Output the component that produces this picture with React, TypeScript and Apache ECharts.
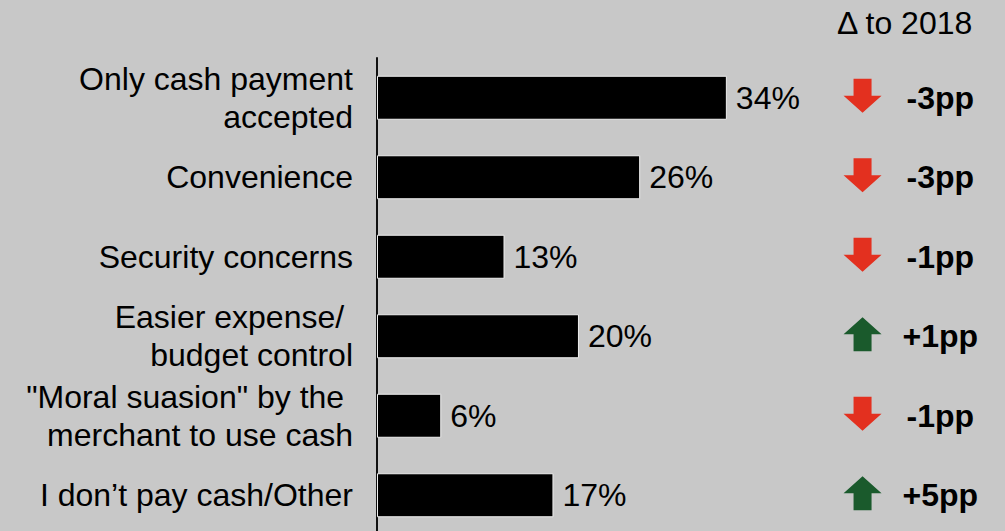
import React, { useEffect, useRef } from "react";
import * as echarts from "echarts";

const categories = [
  "Only cash payment\naccepted",
  "Convenience",
  "Security concerns",
  "Easier expense/ \nbudget control",
  "\"Moral suasion\" by the \nmerchant to use cash",
  "I don\u2019t pay cash/Other",
];
const values = [34.3, 25.8, 12.5, 19.8, 6.3, 17.3];
const deltas = [-3, -3, -1, 1, -1, 5];
const deltaLabels = ["-3pp", "-3pp", "-1pp", "+1pp", "-1pp", "+5pp"];
const headerText = "\u0394 to 2018";

const FONT = "'Liberation Sans', Arial, sans-serif";
const DOWN = "path://M10,0 H28 V17 H38 L19,34 L0,17 H10 Z";
const UP = "path://M19,0 L38,17 H28 V34 H10 V17 H0 Z";

export default function App() {
  const ref = useRef<HTMLDivElement>(null);
  useEffect(() => {
    const chart = echarts.init(ref.current!, null, { renderer: "svg" });
    chart.setOption({
      animation: false,
      backgroundColor: "#c8c8c8",
      title: {
        text: headerText,
        left: 832,
        top: 2,
        textStyle: { fontFamily: FONT, fontSize: 32, fontWeight: "normal", color: "#000" },
      },
      grid: [
        { left: 377, width: 510, top: 58, height: 477, containLabel: false, outerBoundsMode: "none" },
        { left: 820, width: 185, top: 58, height: 477, containLabel: false, outerBoundsMode: "none" },
      ],
      xAxis: [
        { type: "value", gridIndex: 0, min: 0, max: 50, show: false },
        { type: "value", gridIndex: 1, min: 0, max: 100, show: false },
      ],
      yAxis: [
        {
          type: "category",
          gridIndex: 0,
          data: categories,
          inverse: true,
          axisLine: { show: true, lineStyle: { color: "#111", width: 2 } },
          axisTick: { show: false },
          splitLine: { show: false },
          axisLabel: {
            margin: 24,
            fontFamily: FONT,
            fontSize: 32,
            color: "#000",
            lineHeight: 38,
            align: "right",
          },
        },
        {
          type: "category",
          gridIndex: 1,
          data: categories,
          inverse: true,
          show: false,
        },
      ],
      series: [
        {
          type: "bar",
          xAxisIndex: 0,
          yAxisIndex: 0,
          data: values,
          barWidth: 44,
          itemStyle: { color: "#000", borderColor: "#eeeeee", borderWidth: 1 },
          label: {
            show: true,
            position: "right",
            distance: 9,
            formatter: (p: any) => Math.round(p.value) + "%",
            fontFamily: FONT,
            fontSize: 32,
            color: "#000",
          },
        },
        {
          type: "scatter",
          xAxisIndex: 1,
          yAxisIndex: 1,
          data: deltas.map((d, i) => ({
            value: [23, categories[i]],
            symbol: d < 0 ? DOWN : UP,
            symbolOffset: [0, -2],
            itemStyle: { color: d < 0 ? "#e3301f" : "#1a5a2c", opacity: 1 },
          })),
          symbolSize: [38, 34],
          itemStyle: { opacity: 1 },
          silent: true,
        },
        {
          type: "scatter",
          xAxisIndex: 1,
          yAxisIndex: 1,
          data: deltaLabels.map((t, i) => ({ value: [65, categories[i]], name: t })),
          symbolSize: 0,
          itemStyle: { opacity: 1 },
          label: {
            show: true,
            position: "inside",
            formatter: (p: any) => p.name,
            fontFamily: FONT,
            fontSize: 32,
            fontWeight: "bold",
            color: "#000",
            opacity: 1,
          },
          silent: true,
        },
      ],
    });
    return () => chart.dispose();
  }, []);
  return (
    <div
      ref={ref}
      style={{ position: "fixed", left: 0, top: 0, width: 1005, height: 531 }}
    />
  );
}
